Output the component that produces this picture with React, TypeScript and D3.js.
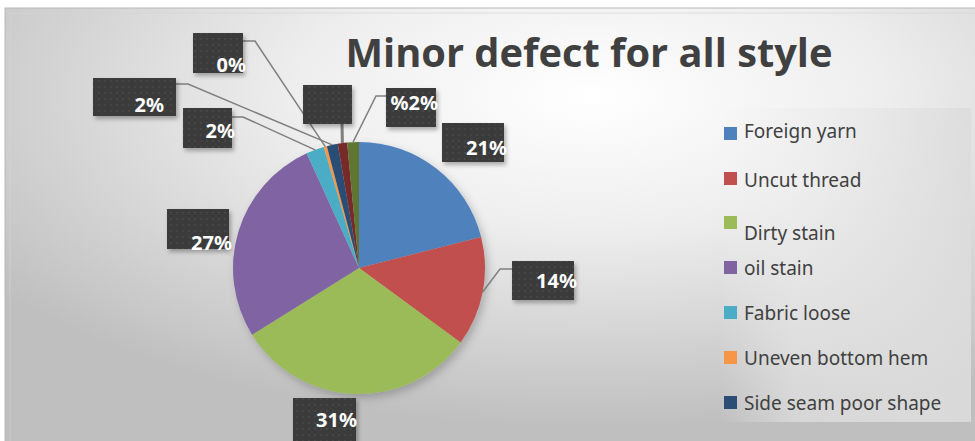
import React from "react";
import * as d3 from "d3";

const categories = [
  "Foreign yarn",
  "Uncut thread",
  "Dirty stain",
  "oil stain",
  "Fabric loose",
  "Uneven bottom hem",
  "Side seam poor shape",
  "Other 1",
  "Other 2",
];
const values = [21, 14, 31, 27, 2.3, 0.4, 1.4, 1.2, 1.5];
const labelTexts = ["21%", "14%", "31%", "27%", "2%", "0%", "2%", "", "%2%"];
const colors = [
  "#4F81BD",
  "#C0504D",
  "#9BBB59",
  "#8064A2",
  "#4BACC6",
  "#F79646",
  "#2C4D75",
  "#772C2A",
  "#5F7530",
];
const legendCount = 7;

// label box layout: box rect, text end x / baseline, leader start & elbow
const labelLayout = [
  { x: 442, y: 123, w: 62, h: 39, tx: 507, ty: 155, lead: null },
  { x: 512, y: 261, w: 62, h: 39, tx: 577, ty: 288, lead: [[512, 269], [500, 269]] },
  { x: 293, y: 398, w: 63, h: 45, tx: 357, ty: 427, lead: null },
  { x: 167, y: 209, w: 62, h: 40, tx: 232, ty: 250, lead: null },
  { x: 183, y: 108, w: 49, h: 40, tx: 235, ty: 138, lead: [[232, 117], [243, 117]] },
  { x: 193, y: 33, w: 50, h: 40, tx: 246, ty: 72, lead: [[243, 41], [255, 41]] },
  { x: 93, y: 78, w: 83, h: 38, tx: 164, ty: 112, lead: [[176, 84], [188, 84]] },
  { x: 303, y: 85, w: 49, h: 39, tx: 352, ty: 118, lead: [[342, 124]] },
  { x: 386, y: 88, w: 50, h: 39, tx: 438, ty: 110, lead: [[386, 96], [376, 96]] },
];

const legendRows = [
  { sq: 127, ty: 138 },
  { sq: 172, ty: 187 },
  { sq: 216, ty: 240 },
  { sq: 261, ty: 275 },
  { sq: 306, ty: 320 },
  { sq: 351, ty: 365 },
  { sq: 396, ty: 410 },
];

export default function App() {
  const W = 975;
  const H = 441;
  const cx = 359;
  const cy = 268;
  const r = 126;

  const pie = d3.pie<number>().sort(null).value((d) => d);
  const arcs = pie(values);
  const arcGen = d3.arc<d3.PieArcDatum<number>>().innerRadius(0).outerRadius(r);
  const edgeArc = d3.arc<d3.PieArcDatum<number>>().innerRadius(r).outerRadius(r);

  return (
    <svg
      width={W}
      height={H}
      style={{ position: "absolute", left: 0, top: 0, display: "block" }}
    >
      <defs>
        <radialGradient id="bg" cx="0.6" cy="0.2" r="0.75">
          <stop offset="0" stopColor="#ffffff" />
          <stop offset="0.4" stopColor="#eeeeee" />
          <stop offset="1" stopColor="#bfbfbf" />
        </radialGradient>
        <linearGradient id="leg" x1="0" x2="1" y1="0" y2="0">
          <stop offset="0" stopColor="#f0f0f0" stopOpacity="0" />
          <stop offset="0.3" stopColor="#ededed" stopOpacity="0.5" />
          <stop offset="1" stopColor="#dcdcdc" stopOpacity="0.9" />
        </linearGradient>
        <pattern id="dots" width="6" height="6" patternUnits="userSpaceOnUse">
          <rect width="6" height="6" fill="#3b3b3b" />
          <circle cx="3" cy="3" r="0.9" fill="#4a4a4a" />
        </pattern>
        <filter id="pieShadow" x="-20%" y="-20%" width="140%" height="140%">
          <feDropShadow dx="3" dy="4" stdDeviation="4" floodColor="#000" floodOpacity="0.22" />
        </filter>
        <filter id="boxShadow" x="-20%" y="-20%" width="150%" height="150%">
          <feDropShadow dx="2" dy="3" stdDeviation="2" floodColor="#000" floodOpacity="0.3" />
        </filter>
      </defs>

      <rect x={0} y={0} width={W} height={H} fill="#ffffff" />
      <rect x={5} y={8} width={W} height={H} fill="url(#bg)" stroke="#b8b8b8" strokeWidth={1} />
      <rect x={10} y={13} width={W} height={H} fill="none" stroke="#d6d6d6" strokeWidth={1} opacity={0.7} />

      <rect x={718} y={108} width={253} height={314} fill="url(#leg)" />

      <text
        x={589}
        y={67}
        textAnchor="middle"
        fontFamily="'Open Sans', 'Noto Sans', sans-serif"
        fontWeight="bold"
        fontSize={40}
        fill="#404040"
        textLength={487}
        lengthAdjust="spacingAndGlyphs"
      >
        Minor defect for all style
      </text>

      <g filter="url(#pieShadow)">
        {arcs.map((a, i) => (
          <path
            key={i}
            d={arcGen(a) || ""}
            transform={`translate(${cx},${cy})`}
            fill={colors[i]}
          />
        ))}
      </g>

      {/* leader lines */}
      {arcs.map((a, i) => {
        const L = labelLayout[i];
        if (!L.lead) return null;
        const c = edgeArc.centroid(a);
        const pts = [...L.lead, [cx + c[0], cy + c[1]]];
        const line = d3.line()(pts as [number, number][]);
        return (
          <path
            key={"l" + i}
            d={line || ""}
            fill="none"
            stroke="#7f7f7f"
            strokeWidth={i === 7 ? 3 : 1.5}
          />
        );
      })}

      {/* label boxes */}
      {labelLayout.map((L, i) => (
        <g key={"b" + i}>
          <rect
            x={L.x}
            y={L.y}
            width={L.w}
            height={L.h}
            fill="url(#dots)"
            filter="url(#boxShadow)"
          />
          <text
            x={L.tx}
            y={L.ty}
            textAnchor="end"
            fontFamily="'Noto Sans', sans-serif"
            fontWeight="bold"
            fontSize={20}
            fill="#ffffff"
          >
            {labelTexts[i]}
          </text>
        </g>
      ))}

      {/* legend */}
      {legendRows.slice(0, legendCount).map((row, i) => (
        <g key={"lg" + i}>
          <rect x={724} y={row.sq} width={13} height={13} fill={colors[i]} />
          <text
            x={744}
            y={row.ty}
            fontFamily="'Noto Sans', sans-serif"
            fontSize={19}
            fill="#404040"
          >
            {categories[i]}
          </text>
        </g>
      ))}
    </svg>
  );
}
